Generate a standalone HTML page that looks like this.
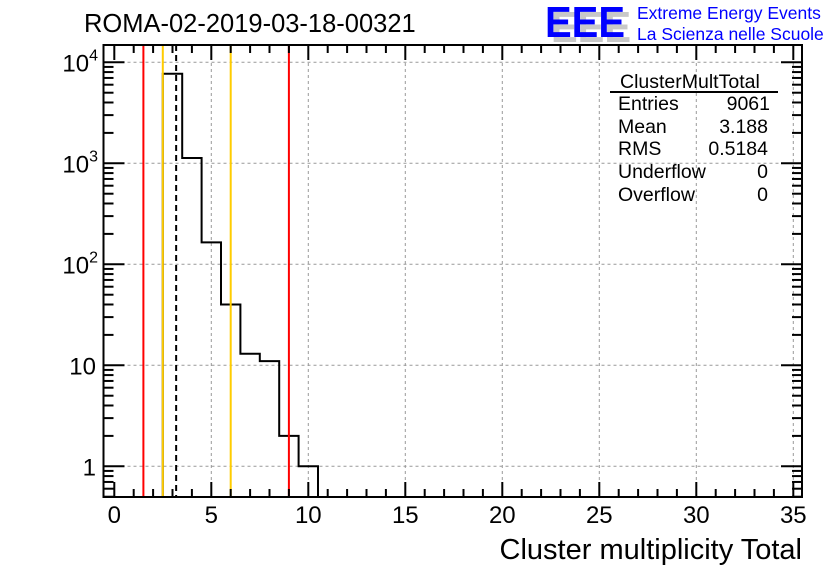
<!DOCTYPE html>
<html><head><meta charset="utf-8"><style>
body{margin:0;background:#fff;}
svg{display:block;font-family:"Liberation Sans",sans-serif;}
</style></head><body>
<svg id="c" width="836" height="572" xmlns="http://www.w3.org/2000/svg">
<rect width="836" height="572" fill="#fff"/>
<text x="84" y="32" font-size="25.5">ROMA-02-2019-03-18-00321</text>
<g>
<text x="551" y="42" font-size="44" font-weight="bold" fill="#c8c8c8" textLength="80" lengthAdjust="spacingAndGlyphs">EEE</text>
<text x="545" y="37" font-size="44" font-weight="bold" fill="#0000ff" textLength="80" lengthAdjust="spacingAndGlyphs">EEE</text>
<text x="637" y="19" font-size="17.5" fill="#0000ff">Extreme Energy Events</text>
<text x="637" y="40" font-size="17.5" fill="#0000ff">La Scienza nelle Scuole</text>
</g>
<g id="grid"></g>
<g id="marks"></g>
<g id="axes"></g>
<g font-size="19.5">
<text x="620" y="88">ClusterMultTotal</text>
<line x1="610" y1="92" x2="778" y2="92" stroke="#000" stroke-width="2"/>
<text x="618" y="110">Entries</text><text x="770" y="110" text-anchor="end">9061</text>
<text x="618" y="133">Mean</text><text x="768" y="133" text-anchor="end">3.188</text>
<text x="618" y="155">RMS</text><text x="768" y="155" text-anchor="end">0.5184</text>
<text x="618" y="178">Underflow</text><text x="768" y="178" text-anchor="end">0</text>
<text x="618" y="201">Overflow</text><text x="768" y="201" text-anchor="end">0</text>
</g>
<text x="802" y="559" font-size="29" text-anchor="end">Cluster multiplicity Total</text>
</svg>
<script>
const binCenters = [3, 4, 5, 6, 7, 8, 9, 10];
const binCounts = [7700, 1130, 165, 40, 13, 11, 2, 1];
const xTicks = [0, 5, 10, 15, 20, 25, 30, 35];
const yTicks = [1, 10, 100, 1000, 10000];
const yTickLabels = ['1', '10', '10²', '10³', '10⁴'];
const redLines = [1.5, 9];
const yellowLines = [2.5, 6];
const meanValue = 3.188;

const L=103.5,R=802,T=45,B=497;
const X0=114.3, XS=19.4;
const sx=v=>X0+v*XS;
const Y1=466.3, YD=101;
const sy=v=>Y1-Math.log10(v)*YD;
const NS='http://www.w3.org/2000/svg';
function mk(tag,attrs,parent){const e=document.createElementNS(NS,tag);for(const k in attrs)e.setAttribute(k,attrs[k]);parent.appendChild(e);return e;}
const grid=document.getElementById('grid'),marks=document.getElementById('marks'),axes=document.getElementById('axes');
xTicks.forEach(t=>{if(t===0)return;const l=mk('line',{x1:sx(t),x2:sx(t),y1:T,y2:B,stroke:'#999','stroke-dasharray':'3,3'},grid);

});
yTicks.forEach(t=>{const l=mk('line',{x1:L,x2:R,y1:sy(t),y2:sy(t),stroke:'#999','stroke-dasharray':'3,3'},grid);

});
let d='';
binCenters.forEach((c,i)=>{const x0=sx(c-0.5),x1=sx(c+0.5),y=sy(binCounts[i]);
if(i===0)d+=`M${x0},${B} L${x0},${y}`;else d+=` L${x0},${y}`;d+=` L${x1},${y}`;
if(i===binCenters.length-1)d+=` L${x1},${B}`;});
const h=mk('path',{d:d,fill:'none',stroke:'#000','stroke-width':2},marks);


redLines.forEach(v=>{const l=mk('line',{x1:sx(v),x2:sx(v),y1:T,y2:B,stroke:'#ff0000','stroke-width':2},marks);

});
yellowLines.forEach(v=>{const l=mk('line',{x1:sx(v),x2:sx(v),y1:T,y2:B,stroke:'#ffcc00','stroke-width':2},marks);

});
const ml=mk('line',{x1:sx(meanValue),x2:sx(meanValue),y1:T,y2:B,stroke:'#000','stroke-width':2,'stroke-dasharray':'6,4'},marks);


const fr=mk('rect',{x:L,y:T,width:R-L,height:B-T,fill:'none',stroke:'#000','stroke-width':2},axes);


for(let v=0;v<=35;v++){if(sx(v)>R)break;const len=v%5===0?15:8;
mk('line',{x1:sx(v),x2:sx(v),y1:B,y2:B-len,stroke:'#000','stroke-width':2},axes);
mk('line',{x1:sx(v),x2:sx(v),y1:T,y2:T+len,stroke:'#000','stroke-width':2},axes);}
xTicks.forEach(t=>{const tx=mk('text',{x:sx(t),y:523,'font-size':24,'text-anchor':'middle'},axes);tx.textContent=t;

});
const ymin=0.5,ymax=Math.pow(10,(Y1-T)/YD);
for(let e=-1;e<=4;e++){for(let m=1;m<=9;m++){const v=m*Math.pow(10,e);if(v<ymin||v>ymax)continue;const len=m===1?21:10;
mk('line',{x1:L,x2:L+len,y1:sy(v),y2:sy(v),stroke:'#000','stroke-width':2},axes);
mk('line',{x1:R,x2:R-len,y1:sy(v),y2:sy(v),stroke:'#000','stroke-width':2},axes);}}
yTicks.forEach((t,i)=>{const tx=mk('text',{x:96,y:sy(t)+9,'font-size':24,'text-anchor':'end'},axes);
const lab=yTickLabels[i];
if(lab.length>2&&/[²³⁴]/.test(lab)){tx.textContent='10';const s=mk('tspan',{dy:-11,'font-size':16},tx);s.textContent={'²':'2','³':'3','⁴':'4'}[lab[2]];tx.setAttribute('x',98);}
else tx.textContent=lab;

});
</script>
</body></html>
